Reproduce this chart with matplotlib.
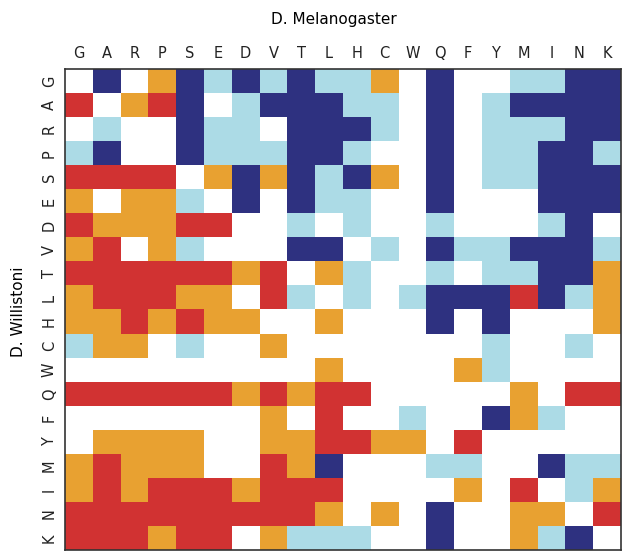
import numpy as np
import matplotlib.pyplot as plt
from matplotlib.colors import ListedColormap

# amino acids, same order on both axes
aas = ["G", "A", "R", "P", "S", "E", "D", "V", "T", "L",
       "H", "C", "W", "Q", "F", "Y", "M", "I", "N", "K"]

# cell classes, one string per row (D. Willistoni)
# w=white, l=light blue, d=dark blue, o=orange, r=red
rows = [
    "wdwodldldllowdwwlldd",  # G
    "rwordwldddllwdwldddd",  # A
    "wlwwdllwdddlwdwllldd",  # R
    "ldwwdlllddlwwdwllddl",  # P
    "rrrrwododldowdwllddd",  # S
    "owoolwdwdllwwdwwwddd",  # E
    "rooorrwwlwlwwlwwwldw",  # D
    "orwolwwwddwlwdlldddl",  # V
    "rrrrrrorwolwwlwllddo",  # T
    "orrroowrlwlwldddrdlo",  # L
    "oororoowwowwwdwdwwwo",  # H
    "loowlwwowwwwwwwlwwlw",  # C
    "wwwwwwwwwowwwwolwwww",  # W
    "rrrrrrororrwwwwwowrr",  # Q
    "wwwwwwwowrwwlwwdolww",  # F
    "woooowwoorroowrwwwww",  # Y
    "orooowwrodwwwllwwdll",  # M
    "ororrrorrrwwwwowrwlo",  # I
    "rrrrrrrrrowowdwwoowr",  # N
    "rrrorrwolllwwdwwoldw",  # K
]

codes = {"w": 0, "l": 1, "d": 2, "o": 3, "r": 4}
colors = ["#ffffff", "#acdbe6", "#2e3180", "#e8a131", "#d13232"]

data = np.array([[codes[c] for c in r] for r in rows])

fig = plt.figure(figsize=(6.33, 5.52), dpi=100)
ax = fig.add_axes([0.1027, 0.0036, 0.878, 0.871])
ax.imshow(data, cmap=ListedColormap(colors), vmin=-0.5, vmax=4.5,
          aspect="auto", interpolation="nearest")

ax.set_xticks(range(20))
ax.set_xticklabels(aas, fontsize=10.5, color="#222222")
ax.xaxis.tick_top()
ax.set_yticks(range(20))
ax.set_yticklabels(aas, fontsize=10.5, rotation=90, va="center", color="#222222")
ax.tick_params(length=0, pad=6)

for s in ax.spines.values():
    s.set_linewidth(1.2)
    s.set_color("#333333")

fig.text(0.527, 0.965, "D. Melanogaster", ha="center", va="center", fontsize=11)
fig.text(0.03, 0.435, "D. Willistoni", ha="center", va="center",
         rotation=90, fontsize=11)

fig.savefig("out.png", dpi=100)
